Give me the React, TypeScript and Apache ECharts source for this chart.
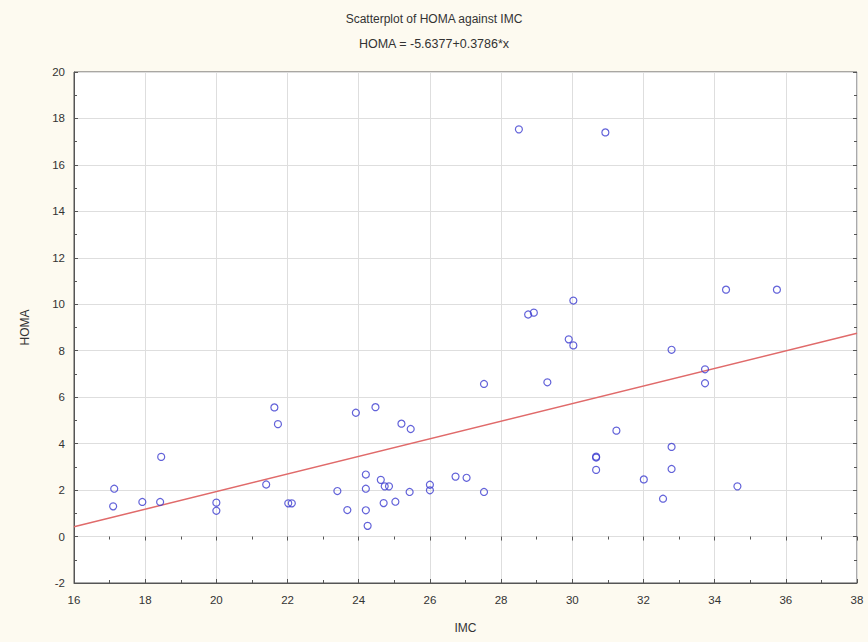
import React, { useEffect, useRef } from "react";
import * as echarts from "echarts";

const imcValues: number[] = [
  17.13, 17.1, 17.92, 18.42, 18.45, 20.0, 20.0, 21.4, 21.63, 21.73,
  22.02, 22.12, 23.4, 23.68, 23.92, 24.2, 24.2, 24.2, 24.25, 24.47,
  24.62, 24.73, 24.85, 24.7, 25.03, 25.2, 25.46, 25.43, 26.0, 26.0,
  26.72, 27.03, 27.52, 27.52, 28.5, 28.76, 28.92, 30.03, 29.9, 30.03,
  29.3, 30.93, 31.24, 30.67, 30.67, 30.67, 34.32, 35.75, 32.79, 33.73,
  33.73, 32.79, 32.79, 32.01, 32.55, 34.64,
];
const homaValues: number[] = [
  2.06, 1.3, 1.49, 1.49, 3.43, 1.46, 1.11, 2.24, 5.56, 4.84,
  1.43, 1.43, 1.96, 1.14, 5.33, 2.67, 2.06, 1.13, 0.46, 5.57,
  2.44, 2.16, 2.16, 1.44, 1.5, 4.86, 4.63, 1.92, 2.23, 1.99,
  2.58, 2.53, 6.57, 1.92, 17.53, 9.56, 9.64, 10.16, 8.49, 8.23,
  6.64, 17.4, 4.56, 3.44, 3.4, 2.87, 10.63, 10.63, 8.04, 7.2,
  6.6, 3.86, 2.91, 2.46, 1.63, 2.16,
];
const fitIntercept = -5.6377;
const fitSlope = 0.3786;
const xRange = [16, 38];
const yRange = [-2, 20];
const titleText = "Scatterplot of HOMA against IMC";
const subtitleText = "HOMA = -5.6377+0.3786*x";

export default function App() {
  const ref = useRef<HTMLDivElement>(null);
  useEffect(() => {
    if (!ref.current) return;
    const chart = echarts.init(ref.current, undefined, { renderer: "svg" });
    const points = imcValues.map((x, i) => [x, homaValues[i]]);
    const fitLine = xRange.map((x) => [x, fitIntercept + fitSlope * x]);
    const font = "Arial, 'Liberation Sans', sans-serif";
    const hiddenAxisCommon = {
      axisLine: { show: false },
      axisLabel: { show: false },
      splitLine: { show: false },
      axisTick: { show: true, inside: true, length: 4, lineStyle: { color: "#555" } },
      minorTick: { show: true, splitNumber: 2, length: 3, lineStyle: { color: "#555" } },
    };
    chart.setOption({
      animation: false,
      backgroundColor: "#fdfaf0",
      title: [
        {
          text: titleText,
          left: "center",
          top: 8,
          textStyle: { fontSize: 12, fontWeight: "normal", color: "#333", fontFamily: font },
        },
        {
          text: subtitleText,
          left: "center",
          top: 32,
          textStyle: { fontSize: 12.5, fontWeight: "normal", color: "#333", fontFamily: font },
        },
      ],
      grid: {
        left: 74,
        right: 11,
        top: 72,
        bottom: 59,
        show: true,
        backgroundColor: "#ffffff",
        borderColor: "#555",
        borderWidth: 1,
      },
      xAxis: [
        {
          type: "value",
          min: xRange[0],
          max: xRange[1],
          interval: 2,
          name: "IMC",
          nameLocation: "middle",
          nameGap: 39,
          nameTextStyle: { fontSize: 12, color: "#333", fontFamily: font },
          axisLine: { show: true, onZero: false, lineStyle: { color: "#555" } },
          axisTick: { show: true, inside: true, length: 4, lineStyle: { color: "#555" } },
          minorTick: { show: true, splitNumber: 2, length: 3, lineStyle: { color: "#555" } },
          axisLabel: { fontSize: 11.5, color: "#333", margin: 11, fontFamily: font },
          splitLine: { show: true, lineStyle: { color: "#dedede" } },
        },
        {
          type: "value",
          position: "top",
          min: xRange[0],
          max: xRange[1],
          interval: 2,
          ...hiddenAxisCommon,
        },
      ],
      yAxis: [
        {
          type: "value",
          min: yRange[0],
          max: yRange[1],
          interval: 2,
          name: "HOMA",
          nameLocation: "middle",
          nameGap: 43,
          nameTextStyle: { fontSize: 12, color: "#333", fontFamily: font },
          axisLine: { show: true, onZero: false, lineStyle: { color: "#555" } },
          axisTick: { show: true, inside: true, length: 4, lineStyle: { color: "#555" } },
          minorTick: { show: true, splitNumber: 2, length: 3, lineStyle: { color: "#555" } },
          axisLabel: { fontSize: 11.5, color: "#333", margin: 9, fontFamily: font },
          splitLine: { show: true, lineStyle: { color: "#dedede" } },
        },
        {
          type: "value",
          position: "right",
          min: yRange[0],
          max: yRange[1],
          interval: 2,
          ...hiddenAxisCommon,
        },
      ],
      series: [
        {
          type: "line",
          data: fitLine,
          symbol: "none",
          lineStyle: { color: "#e06a6a", width: 1.5 },
          silent: true,
          z: 2,
        },
        {
          type: "scatter",
          data: points,
          symbol: "circle",
          symbolSize: 7,
          itemStyle: { color: "transparent", borderColor: "#3b3bcf", borderWidth: 1.2 },
          z: 3,
        },
      ],
    });
    return () => chart.dispose();
  }, []);
  return <div ref={ref} style={{ width: 868, height: 642, position: "absolute", left: 0, top: 0 }} />;
}
